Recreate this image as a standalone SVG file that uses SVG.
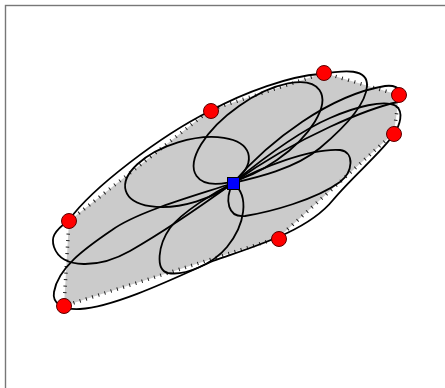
<svg xmlns="http://www.w3.org/2000/svg" width="445" height="388" viewBox="0 0 445 388">
<style>
.loop{fill:none;stroke:#000;stroke-width:1.8}
.pt{fill:#ff0000;stroke:#5a0000;stroke-width:1}
</style>
<rect x="0" y="0" width="445" height="388" fill="#fff"/>
<rect id="frame" x="5.5" y="5.5" width="460" height="400" fill="none" stroke="#777" stroke-width="1.4"/>
<g id="hull">
<polygon points="64,306 69,221 210,110 324,73 399,95 394,133 278,238" fill="#cbcbcb"/>
<polygon points="64,306 69,221 210,110 324,73 399,95 394,133 278,238" fill="none" stroke="#222" stroke-width="3.5" stroke-dasharray="1 5.5"/>
</g>
<g id="connectors">
<path id="loopB" class="loop" d="M233,183 C215,196 170,228 130,251 C100,268 62,270 54,247 C51,238 53,232 69,220 C92,188 160,136 210,111 C245,92 290,76 320,74 C345,70 368,68 367,86 C366,104 345,127 320,148 C295,169 255,178 233,183 Z"/>
<path id="loopA" class="loop" d="M233,183 C205,193 140,210 112,230 C84,249 58,268 54,292 C52,303 62,310 80,309 C115,307 175,278 213,261 C252,247 307,232 333,200 C352,177 382,152 394,134 C400,125 404,112 396,106 C385,99 355,107 330,118 C295,133 255,165 233,183 Z"/>
<path id="loopUR" class="loop" d="M233,183 C270,140 330,95 385,86 C400,84 408,96 398,102 C370,108 300,135 233,183 Z"/>
<path id="loopRight" class="loop" d="M233,183 C260,168 310,148 340,150 C355,152 353,172 340,182 C315,200 270,212 245,216 C228,218 224,200 233,183 Z"/>
<path id="loopDown" class="loop" d="M233,183 C250,196 245,225 227,247 C213,264 185,276 168,273 C155,270 158,245 170,228 C182,212 215,192 233,183 Z"/>
<ellipse id="loopUL" class="loop" cx="187" cy="172" rx="64" ry="31" transform="rotate(-17 187 172)"/>
<ellipse id="loopUp" class="loop" cx="258" cy="133" rx="75" ry="33" transform="rotate(-35 258 133)"/>
</g>
<g id="points">
<circle class="pt" cx="64" cy="306" r="7.5"/>
<circle class="pt" cx="69" cy="221" r="7.5"/>
<circle class="pt" cx="211" cy="111" r="7.5"/>
<circle class="pt" cx="324" cy="73" r="7.5"/>
<circle class="pt" cx="399" cy="95" r="7.5"/>
<circle class="pt" cx="394" cy="134" r="7.5"/>
<circle class="pt" cx="279" cy="239" r="7.5"/>
</g>
<g id="center">
<rect x="227.5" y="177.5" width="12" height="12" fill="#0000ff" stroke="#000" stroke-width="1"/>
</g>
</svg>
